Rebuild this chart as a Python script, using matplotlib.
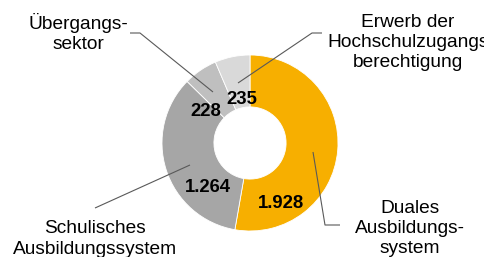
import matplotlib
matplotlib.use('Agg')
import matplotlib.pyplot as plt

categories = ['Duales\nAusbildungs-\nsystem', 'Schulisches\nAusbildungssystem',
              'Übergangs-\nsektor', 'Erwerb der\nHochschulzugangs\nberechtigung']
values = [1928, 1264, 228, 235]
value_labels = ['1.928', '1.264', '228', '235']
colors = ['#F7AF00', '#A6A6A6', '#BFBFBF', '#D9D9D9']

plt.rcParams['font.family'] = ['Liberation Sans', 'DejaVu Sans']

W, H = 484, 257
fig = plt.figure(figsize=(W / 100, H / 100), dpi=100)
ax = fig.add_axes([0, 0, 1, 1])

def py(y):
    # pixel row -> data y
    return H - y

cx, cy, r = 250, 143, 88
ax.pie(values, colors=colors, startangle=90, counterclock=False,
       center=(cx, py(cy)), radius=r, frame=True,
       wedgeprops=dict(width=r * 0.59, edgecolor='white', linewidth=0.6))
ax.set_xlim(0, W)
ax.set_ylim(0, H)
ax.set_aspect('equal')
ax.axis('off')

# value labels inside ring
val_pos = [(281, 203), (208, 188), (206, 111), (242, 99)]
for (x, y), t in zip(val_pos, value_labels):
    ax.text(x, py(y), t, ha='center', va='center', fontsize=13.3,
            fontweight='bold', color='black')

# category labels: center x, first baseline, line step
cat_pos = [(410, 213, 20), (95, 233, 21), (78, 29, 20), (408, 27, 20)]
for (x, y0, step), t in zip(cat_pos, categories):
    for i, line in enumerate(t.split('\n')):
        ax.text(x, py(y0 + i * step), line, ha='center', va='baseline',
                fontsize=13.8, color='black')

# leader lines
leaders = [
    [(313, 152), (325, 225), (340, 225)],
    [(190, 165), (95, 208)],
    [(213, 92), (140, 33), (130, 33)],
    [(238, 83), (312, 33), (322, 33)],
]
for pts in leaders:
    xs = [p[0] for p in pts]
    ys = [py(p[1]) for p in pts]
    ax.plot(xs, ys, color='#595959', lw=0.8, solid_capstyle='butt')

fig.savefig('out.png', dpi=100)
